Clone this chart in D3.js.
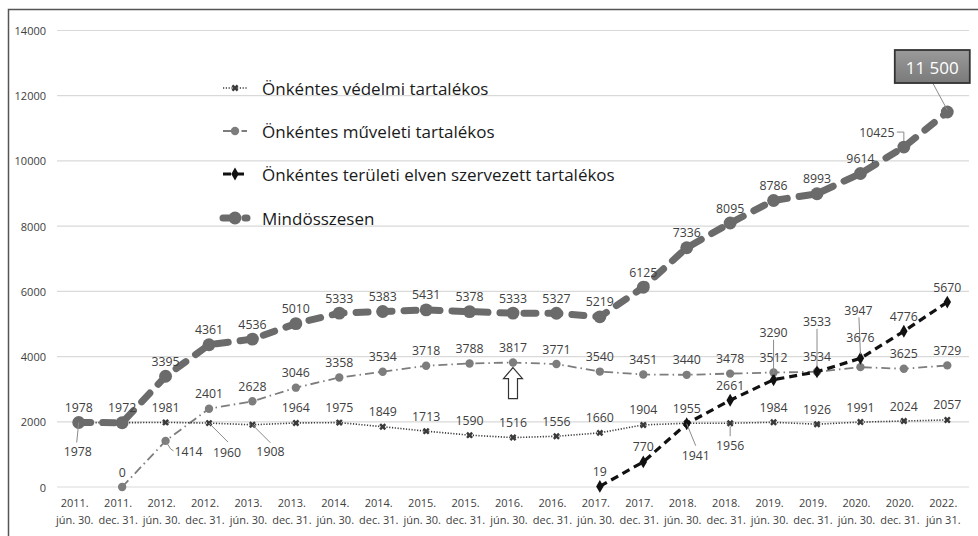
<!DOCTYPE html>
<html>
<head>
<meta charset="utf-8">
<script src="https://cdn.jsdelivr.net/npm/d3@7"></script>
<style>
  body { margin: 0; background: #fff; }
  svg { font-family: "Open Sans", sans-serif; }
</style>
</head>
<body>
<div id="chart"></div>
<script>
const W = 978, H = 536;

// data
const categories = [
  ["2011.", "jún. 30."], ["2011.", "dec. 31."], ["2012.", "jún. 30."], ["2012.", "dec. 31."],
  ["2013.", "jún. 30."], ["2013.", "dec. 31."], ["2014.", "jún. 30."], ["2014.", "dec. 31."],
  ["2015.", "jún. 30."], ["2015.", "dec. 31."], ["2016.", "jún. 30."], ["2016.", "dec. 31."],
  ["2017.", "jún. 30."], ["2017.", "dec. 31."], ["2018.", "jún. 30."], ["2018.", "dec. 31."],
  ["2019.", "jún. 30."], ["2019.", "dec. 31."], ["2020.", "jún. 30."], ["2020.", "dec. 31."],
  ["2022.", "jún 31."]
];
const vedelmi = [1978, 1972, 1981, 1960, 1908, 1964, 1975, 1849, 1713, 1590, 1516,
  1556, 1660, 1904, 1955, 1956, 1984, 1926, 1991, 2024, 2057];
const muveleti = [null, 0, 1414, 2401, 2628, 3046, 3358, 3534, 3718, 3788, 3817,
  3771, 3540, 3451, 3440, 3478, 3512, 3534, 3676, 3625, 3729];
const teruleti = [null, null, null, null, null, null, null, null, null, null, null,
  null, 19, 770, 1941, 2661, 3290, 3533, 3947, 4776, 5670];
const osszes = [1978, 1972, 3395, 4361, 4536, 5010, 5333, 5383, 5431, 5378, 5333,
  5327, 5219, 6125, 7336, 8095, 8786, 8993, 9614, 10425, 11500];
const yTicks = [0, 2000, 4000, 6000, 8000, 10000, 12000, 14000];
const legendNames = [
  "Önkéntes védelmi tartalékos",
  "Önkéntes műveleti tartalékos",
  "Önkéntes területi elven szervezett tartalékos",
  "Mindösszesen"
];

const series = [
  {key: "ved", values: vedelmi, color: "#3a3a3a", width: 1.6, dash: "1.2,1.6", cap: "butt",
   symbol: d3.symbolCross, symSize: 30},
  {key: "muv", values: muveleti, color: "#7d7d7d", width: 1.8, dash: "9,4,1.5,4", cap: "butt",
   symbol: d3.symbolCircle, symSize: 55},
  {key: "ter", values: teruleti, color: "#111", width: 3.2, dash: "8,5", cap: "butt",
   symbol: d3.symbolDiamond, symSize: 48},
  {key: "ossz", values: osszes, color: "#6b6b6b", width: 7, dash: "12,12", cap: "round",
   symbol: d3.symbolCircle, symSize: 130}
];

// label placement tweaks: [dx, dy] of label centre, leader polyline relative to the point
const labelTweaks = {
  "ved-0": {dx: -1, dy: 29, leader: [[0, 0], [-2, 20]]},
  "ved-1": {hide: true},
  "ved-3": {dx: 18, dy: 29, leader: [[0, 0], [19, 19]]},
  "ved-4": {dx: 18, dy: 27, leader: [[0, 0], [18, 18]]},
  "ved-15": {dx: 0, dy: 22, leader: [[0, 3], [0, 13]]},
  "muv-2": {dx: 23, dy: 11, leader: [[0, 0], [5, 8], [8, 10]]},
  "muv-18": {dx: 0, dy: -30},
  "ter-14": {dx: 9, dy: 32, leader: [[0, 0], [9, 22]]},
  "ter-16": {dx: 0, dy: -47, leader: [[0, -5], [0, -40]]},
  "ter-17": {dx: 0, dy: -50, leader: [[0, -5], [0, -43]]},
  "ter-18": {dx: -2, dy: -48, leader: [[0, -4], [-1.5, -41]]},
  "ossz-19": {dx: -27, dy: -15, leader: [[-7, -15], [0, -15], [0, -6]]},
  "ossz-20": {dx: -15, dy: -45.5, box: true, leader: [[0, -2], [-14, -28]]}
};

const svg = d3.select("#chart").append("svg").attr("width", W).attr("height", H);

svg.append("rect")
  .attr("x", 8.5).attr("y", 9.5).attr("width", W + 10).attr("height", H + 10)
  .attr("fill", "none").attr("stroke", "#555").attr("stroke-width", 1.5);

const x = d3.scaleBand()
  .domain(d3.range(categories.length))
  .range([57, 969]);
const cx = i => x(i) + x.bandwidth() / 2;

const y = d3.scaleLinear()
  .domain([0, 14000])
  .range([487, 30.5]);

// gridlines + y labels
svg.append("g").selectAll("line").data(yTicks).join("line")
  .attr("x1", 57).attr("x2", 969)
  .attr("y1", d => y(d)).attr("y2", d => y(d))
  .attr("stroke", "#d9d9d9").attr("stroke-width", 1.2);

svg.append("g").selectAll("text").data(yTicks).join("text")
  .attr("x", 46).attr("y", d => y(d))
  .attr("text-anchor", "end").attr("dominant-baseline", "central")
  .attr("font-size", 11).attr("fill", "#404040")
  .text(d => d);

// x labels
const xl = svg.append("g").selectAll("text").data(categories).join("text")
  .attr("text-anchor", "middle").attr("font-size", 11).attr("fill", "#404040")
  .attr("transform", (d, i) => `translate(${cx(i) - 4},0)`);
xl.append("tspan").attr("x", 0).attr("y", 507).text(d => d[0]);
xl.append("tspan").attr("x", 0).attr("y", 524).text(d => d[1]);

// lines
const line = d3.line()
  .defined(d => d != null)
  .x((d, i) => cx(i))
  .y(d => y(d));

const order = [1, 0, 2, 3];
order.forEach(k => {
  const s = series[k];
  svg.append("path")
    .datum(s.values)
    .attr("fill", "none")
    .attr("stroke", s.color)
    .attr("stroke-width", s.width)
    .attr("stroke-dasharray", s.dash)
    .attr("stroke-linecap", s.cap)
    .attr("stroke-linejoin", "round")
    .attr("d", line);
  const pts = s.values.map((v, i) => ({v, i})).filter(d => d.v != null);
  svg.append("g").selectAll("path").data(pts).join("path")
    .attr("d", d3.symbol().type(s.symbol).size(s.symSize))
    .attr("transform", d => `translate(${cx(d.i)},${y(d.v)})` + (s.key === "ved" ? " rotate(45)" : ""))
    .attr("fill", s.color);
});

// arrow under the 2016 jún. műveleti point
(function () {
  const ax = cx(10), ay = y(muveleti[10]) + 5;
  const p = [[0, 0], [9.5, 11], [4.5, 11], [4.5, 31], [-4.5, 31], [-4.5, 11], [-9.5, 11]];
  svg.append("polygon")
    .attr("points", p.map(q => [ax + q[0], ay + q[1]].join(",")).join(" "))
    .attr("fill", "#fff").attr("stroke", "#333").attr("stroke-width", 1.2);
})();

// data labels
const labels = [];
series.forEach(s => {
  s.values.forEach((v, i) => {
    if (v == null) return;
    const t = labelTweaks[s.key + "-" + i] || {};
    if (t.hide) return;
    labels.push({v, i, px: cx(i), py: y(v), dx: t.dx || 0, dy: t.dy == null ? -15 : t.dy,
      leader: t.leader, box: t.box});
  });
});

const lg = svg.append("g");
lg.selectAll("polyline").data(labels.filter(d => d.leader)).join("polyline")
  .attr("points", d => d.leader.map(q => [d.px + q[0], d.py + q[1]].join(",")).join(" "))
  .attr("fill", "none").attr("stroke", "#8a8a8a").attr("stroke-width", 1);

const boxed = labels.filter(d => d.box);
const grad = svg.append("defs").append("linearGradient").attr("id", "boxg")
  .attr("x1", 0).attr("y1", 0).attr("x2", 0).attr("y2", 1);
grad.append("stop").attr("offset", 0).attr("stop-color", "#9a9a9a");
grad.append("stop").attr("offset", 1).attr("stop-color", "#7a7a7a");
lg.selectAll("rect.box").data(boxed).join("rect")
  .attr("class", "box")
  .attr("x", d => d.px + d.dx - 37.5).attr("y", d => d.py + d.dy - 16.5)
  .attr("width", 75).attr("height", 33)
  .attr("fill", "url(#boxg)").attr("stroke", "#333").attr("stroke-width", 1.8);
lg.selectAll("text.box").data(boxed).join("text")
  .attr("class", "box")
  .attr("x", d => d.px + d.dx).attr("y", d => d.py + d.dy + 1)
  .attr("text-anchor", "middle").attr("dominant-baseline", "central")
  .attr("font-size", 17).attr("fill", "#fff")
  .text(d => d3.format(",")(d.v).replace(",", " "));

lg.selectAll("text.val").data(labels.filter(d => !d.box)).join("text")
  .attr("class", "val")
  .attr("x", d => d.px + d.dx).attr("y", d => d.py + d.dy)
  .attr("text-anchor", "middle").attr("dominant-baseline", "central")
  .attr("font-size", 12.3).attr("fill", "#404040")
  .text(d => d.v);

// legend
const legY = [88, 131, 174, 218];
const leg = svg.append("g");
series.forEach((s, k) => {
  const g = leg.append("g").attr("transform", `translate(0,${legY[k]})`);
  g.append("line").attr("x1", 223).attr("x2", 247).attr("y1", 0).attr("y2", 0)
    .attr("stroke", s.color).attr("stroke-width", s.width)
    .attr("stroke-dasharray", s.key === "ossz" ? "12,10" : s.dash)
    .attr("stroke-linecap", s.cap);
  g.append("path")
    .attr("d", d3.symbol().type(s.symbol).size(s.symSize))
    .attr("transform", `translate(235,0)` + (s.key === "ved" ? " rotate(45)" : ""))
    .attr("fill", s.color);
  g.append("text").attr("x", 262).attr("y", 0)
    .attr("dominant-baseline", "central").attr("font-size", 17).attr("fill", "#1a1a1a")
    .text(legendNames[k]);
});
</script>
</body>
</html>
